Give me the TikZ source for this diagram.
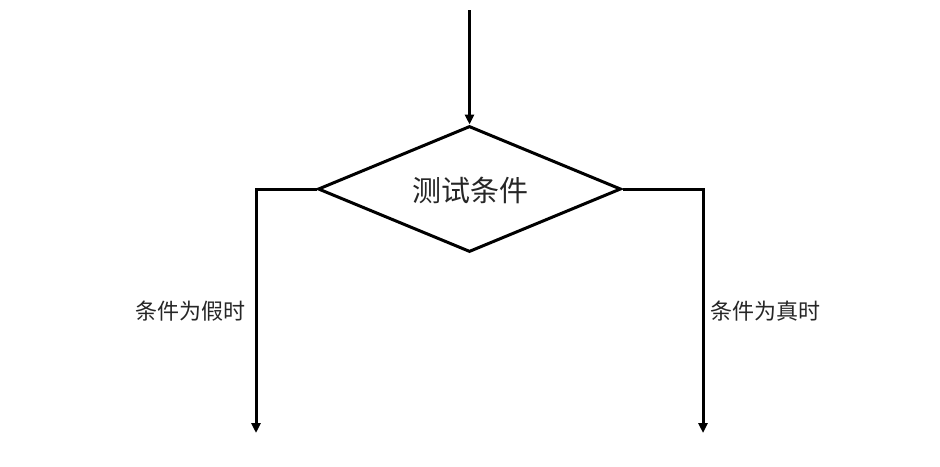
\documentclass[tikz,border=0pt]{standalone}
\usepackage{fontspec}
\newfontfamily\cjk{Noto Sans CJK SC}
\usetikzlibrary{shapes.geometric,arrows.meta}
\begin{document}
\begin{tikzpicture}[x=1pt,y=-1pt,
  line/.style={line width=3pt},
  arr/.style={line, -{Triangle[length=10pt,width=9pt]}},
  decision/.style={diamond, draw, line width=3pt, inner sep=0pt, aspect=2.4,
    minimum width=303pt, minimum height=126pt},
  dtext/.style={font=\cjk\fontsize{29}{32}\selectfont, text=black!85},
  lbl/.style={font=\cjk\fontsize{22}{26}\selectfont, text=black!85}]
\useasboundingbox (0,0) rectangle (940,466);
\node[decision] (d) at (469.5,189) {};
\node[dtext] (dt) at (470,190) {测试条件};
\coordinate (start) at (469.5,10);
\coordinate (lend) at (256,433);
\coordinate (rend) at (703,433);
\draw[arr] (start) -- (d.north);
\draw[arr] (d.west) -| (lend);
\draw[arr] (d.east) -| (rend);
\node[lbl] (lf) at (190,311) {条件为假时};
\node[lbl] (lt) at (765,311) {条件为真时};
\end{tikzpicture}
\end{document}
